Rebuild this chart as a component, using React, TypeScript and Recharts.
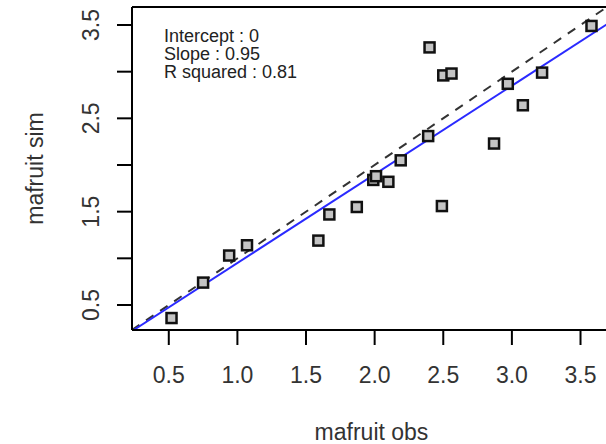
import React from 'react';
import { ScatterChart, Scatter, XAxis, YAxis, ReferenceLine } from 'recharts';

const obsValues = [0.52, 0.75, 0.94, 1.07, 1.59, 1.67, 1.87, 1.99, 2.01, 2.10, 2.19, 2.39, 2.49, 2.87, 3.08, 2.40, 2.50, 2.56, 2.97, 3.22, 3.58];
const simValues = [0.36, 0.74, 1.03, 1.14, 1.19, 1.47, 1.55, 1.84, 1.88, 1.82, 2.05, 2.31, 1.56, 2.23, 2.64, 3.26, 2.96, 2.98, 2.87, 2.99, 3.49];
const xTicks = [0.5, 1.0, 1.5, 2.0, 2.5, 3.0, 3.5];
const yTicks = [0.5, 1.0, 1.5, 2.0, 2.5, 3.0, 3.5];
const yLabelled = [0.5, 1.5, 2.5, 3.5];
const statLines = ['Intercept : 0', 'Slope : 0.95', 'R squared : 0.81'];
const intercept = 0;
const slope = 0.95;
const axisMin = 0.232;
const axisMax = 3.693;

const FONT = '"Liberation Sans", Arial, sans-serif';

const points = obsValues.map((o, i) => ({ obs: o, sim: simValues[i] }));

const SquareMarker = (props: any) => {
  const { cx, cy } = props;
  if (cx == null || cy == null) return null;
  return (
    <rect x={cx - 5} y={cy - 5} width={10} height={10} fill="#c4c4c4" stroke="#111" strokeWidth={2.5} />
  );
};

const XTick = (props: any) => {
  const { x, y, payload } = props;
  return (
    <text x={x} y={y + 38} textAnchor="middle" fontSize={23} fontFamily={FONT} fill="#333">
      {Number(payload.value).toFixed(1)}
    </text>
  );
};

const YTick = (props: any) => {
  const { x, y, payload } = props;
  const v = Number(payload.value);
  if (!yLabelled.some((t) => Math.abs(t - v) < 1e-6)) return null;
  const bx = x - 18;
  return (
    <text x={bx} y={y} textAnchor="middle" fontSize={23} fontFamily={FONT} fill="#333" transform={`rotate(-90, ${bx}, ${y})`}>
      {v.toFixed(1)}
    </text>
  );
};

const XTitle = (props: any) => {
  const vb = props.viewBox || {};
  const cx = vb.x + vb.width / 2 + 2;
  return (
    <text x={cx} y={439.5} textAnchor="middle" fontSize={23} fontFamily={FONT} fill="#333">
      mafruit obs
    </text>
  );
};

const YTitle = (props: any) => {
  const vb = props.viewBox || {};
  const cy = vb.y + vb.height / 2;
  const bx = 43;
  return (
    <text x={bx} y={cy} textAnchor="middle" fontSize={23} fontFamily={FONT} fill="#333" transform={`rotate(-90, ${bx}, ${cy})`}>
      mafruit sim
    </text>
  );
};

const StatsText = () => (
  <g>
    {statLines.map((s, i) => (
      <text key={s} x={164} y={41.5 + i * 18} fontSize={18} fontFamily={FONT} fill="#222">
        {s}
      </text>
    ))}
  </g>
);

export default function App() {
  return (
    <div style={{ position: 'absolute', left: 0, top: 0, width: 606, height: 444, background: '#fff' }}>
      <ScatterChart width={606} height={444} margin={{ top: 7, right: -1, bottom: 0, left: 0 }}>
        <XAxis
          type="number"
          dataKey="obs"
          domain={[axisMin, axisMax]}
          ticks={xTicks}
          allowDataOverflow
          height={114}
          tickSize={15}
          tickMargin={0}
          tick={<XTick />}
          axisLine={{ stroke: '#000', strokeWidth: 2 }}
          tickLine={{ stroke: '#000', strokeWidth: 2 }}
          label={<XTitle />}
        />
        <YAxis
          type="number"
          dataKey="sim"
          domain={[axisMin, axisMax]}
          ticks={yTicks}
          allowDataOverflow
          width={132}
          tickSize={15}
          tickMargin={0}
          tick={<YTick />}
          axisLine={{ stroke: '#000', strokeWidth: 2 }}
          tickLine={{ stroke: '#000', strokeWidth: 2 }}
          label={<YTitle />}
        />
        <ReferenceLine y={axisMax} stroke="#000" strokeWidth={2} />
        <Scatter data={points} shape={<SquareMarker />} isAnimationActive={false} />
        <ReferenceLine
          segment={[{ x: axisMin, y: axisMin }, { x: axisMax, y: axisMax }]}
          stroke="#333"
          strokeWidth={2}
          strokeDasharray="9 8"
          ifOverflow="hidden"
        />
        <ReferenceLine
          segment={[
            { x: axisMin, y: intercept + slope * axisMin },
            { x: axisMax, y: intercept + slope * axisMax },
          ]}
          stroke="#2a2aff"
          strokeWidth={2}
          ifOverflow="hidden"
        />
        <StatsText />
      </ScatterChart>
    </div>
  );
}
